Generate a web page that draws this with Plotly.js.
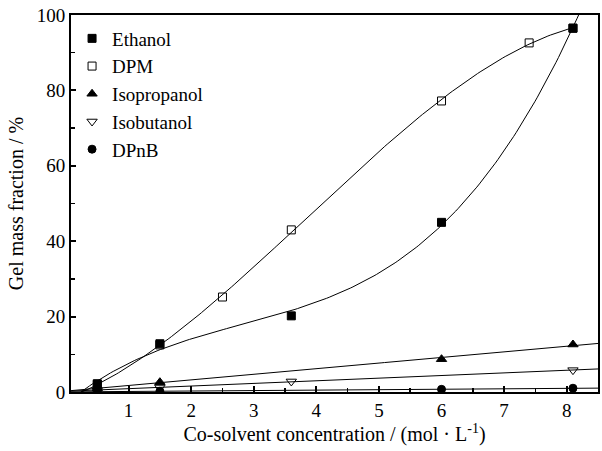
<!DOCTYPE html>
<html>
<head>
<meta charset="utf-8">
<script src="https://cdn.plot.ly/plotly-3.0.1.min.js"></script>
<style>html,body{margin:0;padding:0;background:#fff;}#chart{width:602px;height:451px;}</style>
</head>
<body>
<div id="chart"></div>
<script>
const seriesNames = ["Ethanol", "DPM", "Isopropanol", "Isobutanol", "DPnB"];
const ethanolX = [0.5, 1.5, 3.6, 6.0, 8.1];
const ethanolY = [2.2, 12.8, 20.2, 45.0, 96.5];
const dpmX = [0.5, 1.5, 2.5, 3.6, 6.0, 7.4, 8.1];
const dpmY = [2.0, 12.5, 25.2, 43.0, 77.2, 92.6, 96.5];
const isopropanolX = [0.5, 1.5, 6.0, 8.1];
const isopropanolY = [1.0, 2.6, 8.7, 12.6];
const isobutanolX = [0.5, 1.5, 3.6, 8.1];
const isobutanolY = [0.5, 1.2, 2.8, 5.8];
const dpnbX = [0.5, 1.5, 6.0, 8.1];
const dpnbY = [0.1, 0.2, 0.7, 1.0];
const xTicks = [1, 2, 3, 4, 5, 6, 7, 8];
const yTicks = [0, 20, 40, 60, 80, 100];

// least-squares polynomial fit
function polyfit(xs, ys, deg) {
  const n = deg + 1;
  const A = [];
  for (let i = 0; i < n; i++) {
    A.push(new Array(n + 1).fill(0));
  }
  for (let k = 0; k < xs.length; k++) {
    for (let i = 0; i < n; i++) {
      for (let j = 0; j < n; j++) A[i][j] += Math.pow(xs[k], i + j);
      A[i][n] += ys[k] * Math.pow(xs[k], i);
    }
  }
  for (let i = 0; i < n; i++) {
    let p = i;
    for (let r = i + 1; r < n; r++) if (Math.abs(A[r][i]) > Math.abs(A[p][i])) p = r;
    [A[i], A[p]] = [A[p], A[i]];
    for (let r = 0; r < n; r++) {
      if (r === i) continue;
      const f = A[r][i] / A[i][i];
      for (let c = i; c <= n; c++) A[r][c] -= f * A[i][c];
    }
  }
  return A.map((row, i) => row[n] / row[i]);
}
function curve(coef, x0, x1) {
  const xs = [], ys = [];
  const steps = 200;
  for (let s = 0; s <= steps; s++) {
    const x = x0 + (x1 - x0) * s / steps;
    let y = 0;
    for (let i = 0; i < coef.length; i++) y += coef[i] * Math.pow(x, i);
    xs.push(x); ys.push(y);
  }
  return {xs, ys};
}

const xMin = 0.08, xMax = 8.5;
const fits = [
  curve(polyfit(ethanolX, ethanolY, 3), xMin, xMax),
  curve(polyfit(dpmX, dpmY, 3), xMin, 8.1),
  curve(polyfit(isopropanolX, isopropanolY, 1), xMin, xMax),
  curve(polyfit(isobutanolX, isobutanolY, 1), xMin, xMax),
  curve(polyfit(dpnbX, dpnbY, 1), xMin, xMax)
];

const traces = [];
fits.forEach(f => traces.push({
  x: f.xs, y: f.ys, mode: 'lines', showlegend: false, hoverinfo: 'skip',
  line: {color: '#000', width: 1}
}));

const mk = (name, xs, ys, symbol, size, rank) => ({
  x: xs, y: ys, mode: 'markers', name: name, legendrank: rank,
  marker: {symbol: symbol, size: size, color: '#000', line: {color: '#000', width: 1}}
});
traces.push(mk(seriesNames[4], dpnbX, dpnbY, 'circle', 8, 5));
traces.push(mk(seriesNames[3], isobutanolX, isobutanolY, 'triangle-down-open', 9, 4));
traces.push(mk(seriesNames[2], isopropanolX, isopropanolY, 'triangle-up', 9, 3));
traces.push(mk(seriesNames[1], dpmX, dpmY, 'square-open', 8, 2));
traces.push(mk(seriesNames[0], ethanolX, ethanolY, 'square', 8, 1));

const fam = '"Liberation Serif", "Times New Roman", serif';
const tickFont = {family: fam, size: 19, color: '#000'};
const titleFont = {family: fam, size: 20, color: '#000'};
const legendFont = {family: fam, size: 19, color: '#000'};

const layout = {
  width: 602, height: 451,
  margin: {l: 71, r: 4, t: 15, b: 59},
  paper_bgcolor: '#fff', plot_bgcolor: '#fff',
  font: tickFont,
  showlegend: true,
  legend: {
    x: 0.002, y: 0.988, xanchor: 'left', yanchor: 'top',
    bgcolor: 'rgba(0,0,0,0)', borderwidth: 0,
    font: legendFont, tracegroupgap: 0, itemwidth: 30
  },
  xaxis: {
    range: [xMin, xMax], tickvals: xTicks, ticktext: xTicks.map(String),
    ticks: 'inside', ticklen: 6, tickwidth: 2, tickcolor: '#000',
    showline: true, linewidth: 2, linecolor: '#000', mirror: true,
    showgrid: false, zeroline: false,
    minor: {dtick: 0.5, tick0: 0, ticks: 'inside', ticklen: 4, tickwidth: 1.5, tickcolor: '#000', showgrid: false},
    title: {text: 'Co-solvent concentration / (mol \u00b7 L<sup>-1</sup>)', font: titleFont, standoff: 6},
    tickfont: tickFont
  },
  yaxis: {
    range: [0, 100], tickvals: yTicks, ticktext: yTicks.map(String),
    ticks: 'inside', ticklen: 5, tickwidth: 2, tickcolor: '#000',
    showline: true, linewidth: 2, linecolor: '#000', mirror: true,
    showgrid: false, zeroline: false,
    minor: {dtick: 10, tick0: 0, ticks: 'inside', ticklen: 4, tickwidth: 1.5, tickcolor: '#000', showgrid: false},
    title: {text: 'Gel mass fraction / %', font: titleFont, standoff: 8},
    tickfont: tickFont
  }
};

Plotly.newPlot('chart', traces, layout, {displayModeBar: false, staticPlot: true});
</script>
</body>
</html>
